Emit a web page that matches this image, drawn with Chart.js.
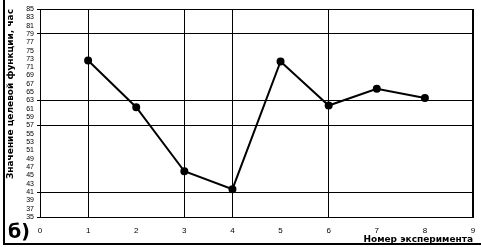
<!DOCTYPE html>
<html>
<head>
<meta charset="utf-8">
<script src="https://cdn.jsdelivr.net/npm/chart.js@4"></script>
<style>
  html, body { margin: 0; padding: 0; background: #fff; }
  #wrap { position: relative; width: 481px; height: 247px; overflow: hidden; }
  #chart { position: absolute; left: 0; top: 0; }
  #frame { position: absolute; left: 3px; top: 0; width: 478px; height: 245px;
           border-left: 2px solid #000; border-bottom: 2px solid #000; box-sizing: border-box; pointer-events: none; }
  #tag { position: absolute; left: 8px; top: 220px; font: bold 19px "DejaVu Sans", sans-serif; color: #000; line-height: 22px; }
</style>
</head>
<body>
<div id="wrap">
  <canvas id="chart" width="481" height="247"></canvas>
  <div id="frame"></div>
  <div id="tag">б)</div>
</div>
<script>
// experiment number vs objective value
const experiments = [1, 2, 3, 4, 5, 6, 7, 8];
const objectiveHours = [72.6, 61.4, 46.0, 41.7, 72.4, 61.8, 65.8, 63.6];

// which grid lines the original actually shows
const yGridValues = [41, 57, 63, 79, 85];
const xGridValues = [1, 3, 4, 6, 9];

const yTitle = 'Значение целевой функции, час';
const xTitle = 'Номер эксперимента';

const BLACK = '#000000';
const NONE = 'rgba(0,0,0,0)';

new Chart(document.getElementById('chart'), {
    type: 'scatter',
    data: {
        datasets: [{
            data: experiments.map((x, i) => ({ x, y: objectiveHours[i] })),
            showLine: true,
            borderColor: BLACK,
            backgroundColor: BLACK,
            borderWidth: 2,
            pointRadius: 3,
            pointHoverRadius: 3
        }]
    },
    options: {
        responsive: false,
        animation: false,
        devicePixelRatio: 1,
        layout: { padding: { left: 0, top: 9, right: 8, bottom: 0 } },
        plugins: { legend: { display: false }, tooltip: { enabled: false } },
        scales: {
            x: {
                type: 'linear', min: 0, max: 9,
                ticks: { stepSize: 1, autoSkip: false, maxRotation: 0, color: BLACK, padding: 2,
                         font: { family: 'Liberation Sans', size: 8 } },
                grid: {
                    tickLength: 7,
                    tickColor: NONE,
                    color: c => xGridValues.includes(c.tick.value) ? BLACK : NONE,
                    lineWidth: c => c.tick.value === 9 ? 2 : 1
                },
                border: { display: true, color: BLACK, width: 1 },
                title: { display: true, text: xTitle, align: 'end', color: BLACK,
                         font: { family: 'DejaVu Sans', size: 9, weight: 'bold' }, padding: { top: 0, bottom: 2 } },
                afterFit: s => { s.height = 30; }
            },
            y: {
                min: 35, max: 85,
                ticks: { stepSize: 2, autoSkip: false, color: BLACK, padding: 3,
                         font: { family: 'Liberation Sans', size: 7 } },
                grid: {
                    tickLength: 3,
                    color: c => yGridValues.includes(c.tick.value) ? BLACK : NONE,
                    tickColor: c => (c.tick.value === 35 || yGridValues.includes(c.tick.value)) ? BLACK : NONE
                },
                border: { display: true, color: BLACK, width: 1 },
                title: { display: true, text: yTitle, align: 'end', color: BLACK,
                         font: { family: 'DejaVu Sans', size: 9, weight: 'bold' }, padding: { top: 5, bottom: 0 } },
                afterFit: s => { s.width = 40; }
            }
        }
    }
});
</script>
</body>
</html>
